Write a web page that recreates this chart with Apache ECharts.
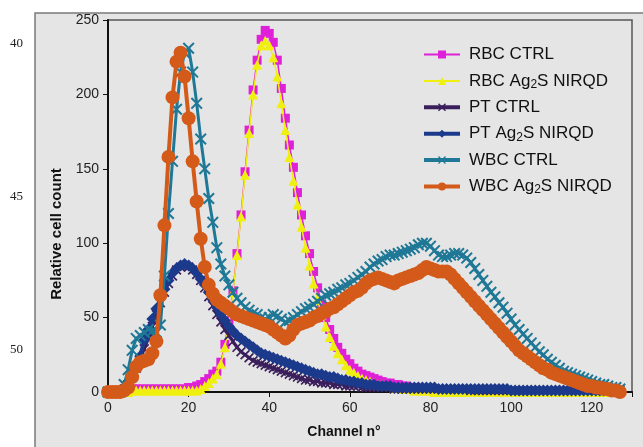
<!DOCTYPE html>
<html><head><meta charset="utf-8">
<script src="https://cdn.jsdelivr.net/npm/echarts@6/dist/echarts.min.js"></script>
<style>html,body{margin:0;padding:0;background:#fff}#c{width:643px;height:447px}</style>
</head><body><div id="c"></div>
<script>
// Channel index = position in array (0..127)
const seriesNames = ['RBC CTRL', 'RBC Ag2S NIRQD', 'PT CTRL', 'PT Ag2S NIRQD', 'WBC CTRL', 'WBC Ag2S NIRQD'];
const xTicks = [0, 20, 40, 60, 80, 100, 120];
const yTicks = [0, 50, 100, 150, 200, 250];

const rbcCtrl = [
  0,0,0,0,0,1,2,2,2,2,
  2,2,2,2,2,2,2,2,2,2,
  3,3,4,5,7,9,12,14,20,32,
  48,68,93,119,148,176,203,223,237,243,
  241,235,223,204,184,166,151,134,119,105,
  93,81,70,59,50,42,36,30,26,22,
  19,16,14,12,11,10,9,8,7,6,
  6,5,5,4,4,3,3,2,2,2,
  1,1,1,1,1,1,0,0,0,0,
  0,0,0,0,0,0,0,0,0,0,
  0,0,0,0,0,0,0,0,0,0,
  0,0,0,0,0,0,0,0,0,0,
  0,0,0,0,0,0,0,0
];
const rbcAg = [
  0,0,0,0,0,0,1,1,1,1,
  1,1,1,1,1,1,1,1,1,1,
  1,1,1,2,4,6,9,12,19,30,
  46,67,92,118,146,174,200,220,233,236,
  233,225,212,194,176,158,142,126,111,97,
  85,73,62,52,44,37,31,26,22,18,
  15,13,11,9,8,7,6,5,5,4,
  4,3,3,2,2,2,1,1,1,1,
  1,0,0,0,0,0,0,0,0,0,
  0,0,0,0,0,0,0,0,0,0,
  0,0,0,0,0,0,0,0,0,0,
  0,0,0,0,0,0,0,0,0,0,
  0,0,0,0,0,0,0,0
];
const ptCtrl = [
  0,0,0,0,2,5,10,16,22,29,
  36,44,52,60,67,73,78,82,84,85,
  84,82,79,75,70,64,58,52,47,42,
  38,34,30,27,25,23,21,20,19,18,
  17,16,15,14,13,12,11,10,9,8,
  8,7,7,6,6,6,5,5,5,4,
  4,4,4,3,3,3,3,3,3,3,
  3,2,2,2,2,2,2,2,2,2,
  2,2,2,2,2,2,2,2,2,2,
  1,1,1,1,1,1,1,1,1,1,
  1,1,1,1,1,1,1,1,1,1,
  1,1,1,1,1,1,1,1,1,1,
  1,1,1,1,1,1,1,1
];
const ptAg = [
  0,0,0,0,3,7,12,18,24,35,
  42,49,56,63,69,75,80,83,85,86,
  85,83,80,76,72,67,62,57,52,48,
  44,41,38,36,34,32,30,28,26,25,
  24,23,22,21,20,19,18,17,16,15,
  14,13,12,12,11,10,10,9,8,8,
  7,7,6,6,5,5,5,4,4,4,
  4,3,3,3,3,3,3,3,3,3,
  3,3,2,2,2,2,2,2,2,2,
  2,2,2,2,2,2,2,2,2,2,
  1,1,1,1,1,1,1,1,1,1,
  1,1,1,1,1,1,1,1,1,1,
  1,1,1,1,1,1,1,1
];
const wbcCtrl = [
  0,0,0,0,5,15,28,36,38,40,
  42,41,40,45,78,120,155,190,215,228,
  231,215,194,170,150,130,114,97,86,78,
  72,67,63,60,57,55,53,52,50,49,
  50,52,51,49,47,48,50,52,54,56,
  57,59,61,63,65,66,67,69,70,72,
  73,75,77,79,81,84,86,88,89,91,
  92,92,93,94,95,96,97,99,100,100,
  98,95,92,91,91,92,93,93,92,90,
  87,83,79,75,71,67,64,60,57,53,
  49,45,42,39,36,33,30,27,25,22,
  20,18,16,14,13,12,11,10,9,8,
  7,6,5,5,4,3,3,2
];
const wbcAg = [
  0,0,0,0,1,3,10,17,20,21,
  22,26,34,65,112,158,198,222,228,212,
  184,155,128,103,84,72,66,62,60,58,
  56,54,52,51,50,49,48,47,46,45,
  44,42,40,38,36,38,42,45,46,47,
  48,50,51,53,54,56,57,59,61,63,
  65,67,68,70,73,75,76,77,76,75,
  74,73,75,76,77,78,79,80,82,84,
  83,82,81,81,81,79,76,73,70,67,
  64,61,58,55,52,49,46,43,40,37,
  34,31,28,26,24,22,20,18,16,15,
  13,12,11,10,9,8,7,6,5,4,
  4,3,3,2,2,1,1,0
];

const X_PATH = 'path://M0,1.2L1.2,0L5,3.8L8.8,0L10,1.2L6.2,5L10,8.8L8.8,10L5,6.2L1.2,10L0,8.8L3.8,5Z';
const colors = ['#e020d8', '#f0f010', '#3a1f5c', '#1c3a8c', '#1f7896', '#d45a1a'];
const symbols = ['rect', 'triangle', X_PATH, 'diamond', X_PATH, 'circle'];
const symSizes = [9, 10, 10, 12, 12, 14];
const lineWidths = [1.5, 1.5, 3, 4, 3, 4];
const legendWidths = [2, 2, 4, 4, 4, 4];
const allData = [rbcCtrl, rbcAg, ptCtrl, ptAg, wbcCtrl, wbcAg];

const series = allData.map((arr, k) => ({
  name: seriesNames[k],
  type: 'line',
  data: arr.map((v, i) => [i, v]),
  symbol: symbols[k],
  symbolSize: symSizes[k],
  showAllSymbol: true,
  smooth: false,
  animation: false,
  z: 2 + k,
  lineStyle: { color: colors[k], width: lineWidths[k] },
  itemStyle: { color: colors[k], borderWidth: 0 }
}));

function fmtName(n) {
  if (n.indexOf('Ag2S') >= 0) {
    const p = n.split('Ag2S');
    return '{a|' + p[0] + 'Ag}{s|2}{a|S' + p[1] + '}';
  }
  return '{a|' + n + '}';
}

const FONT = 'Arial, "Liberation Sans", sans-serif';
const chart = echarts.init(document.getElementById('c'), null, { renderer: 'canvas' });
chart.setOption({
  backgroundColor: '#ffffff',
  animation: false,
  graphic: [
    { type: 'rect', z: -10, shape: { x: 35, y: 13, width: 620, height: 450 },
      style: { fill: '#e5e5e5', stroke: '#7a7a7a', lineWidth: 1.5 } },
    { type: 'text', x: 10, y: 37, style: { text: '40', font: '13px "Liberation Serif", serif', fill: '#222' } },
    { type: 'text', x: 10, y: 190, style: { text: '45', font: '13px "Liberation Serif", serif', fill: '#222' } },
    { type: 'text', x: 10, y: 343, style: { text: '50', font: '13px "Liberation Serif", serif', fill: '#222' } }
  ],
  grid: { left: 108, top: 20, right: 11, bottom: 55, show: true, borderColor: '#555', borderWidth: 1.5, backgroundColor: 'transparent' },
  legend: {
    orient: 'vertical', left: 417, top: 41, itemWidth: 36, itemHeight: 10, itemGap: 8.4,
    data: seriesNames.map((n, k) => ({ name: n, lineStyle: { width: legendWidths[k], color: colors[k] } })),
    formatter: fmtName,
    textStyle: {
      padding: [0, 0, 0, 4],
      rich: {
        a: { fontFamily: FONT, fontSize: 17, lineHeight: 18, color: '#111' },
        s: { fontFamily: FONT, fontSize: 12, lineHeight: 12, color: '#111', padding: [7, 0, 0, 0] }
      }
    }
  },
  xAxis: {
    type: 'value', min: 0, max: 130, interval: 20,
    name: 'Channel n°', nameLocation: 'middle', nameGap: 33,
    nameTextStyle: { fontFamily: FONT, fontSize: 14, fontWeight: 'bold', color: '#111', padding: [0, 52, 0, 0] },
    axisLine: { show: true, lineStyle: { color: '#111', width: 2 } },
    axisTick: { show: true, length: 5, lineStyle: { color: '#111' } },
    splitLine: { show: false },
    axisLabel: { fontFamily: FONT, fontSize: 14, color: '#222', margin: 9,
      formatter: v => (xTicks.indexOf(v) >= 0 ? String(v) : '') }
  },
  yAxis: {
    type: 'value', min: 0, max: 250, interval: 50,
    name: 'Relative cell count', nameLocation: 'middle', nameGap: 40, nameRotate: 90,
    nameTextStyle: { fontFamily: FONT, fontSize: 15, fontWeight: 'bold', color: '#111', padding: [0, 56, 0, 0] },
    axisLine: { show: true, lineStyle: { color: '#111', width: 2 } },
    axisTick: { show: true, length: 5, lineStyle: { color: '#111' } },
    splitLine: { show: false },
    axisLabel: { fontFamily: FONT, fontSize: 14, color: '#222', margin: 9,
      formatter: v => (yTicks.indexOf(v) >= 0 ? String(v) : '') }
  },
  series: series
});
</script>
</body></html>
